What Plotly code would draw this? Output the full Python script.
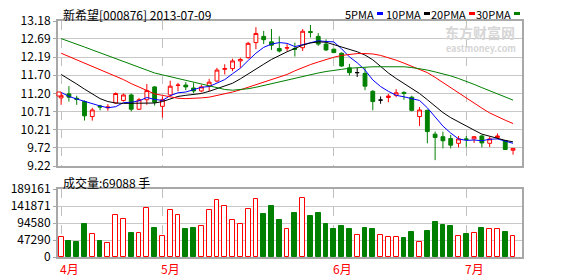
import plotly.graph_objects as go

# ---------------- data ----------------
month_labels = ["4月", "5月", "6月", "7月"]
month_start = [0, 13, 35, 52]

open_ = [11.08, 11.19, 11.07, 10.98, 10.57, 10.86, 10.81, 10.94, 11.01, 11.16,
         10.77, 11.03, 11.38, 10.85, 11.16, 11.42, 11.43, 11.35, 11.27, 11.40,
         11.54, 11.86, 11.88, 12.09, 12.18, 12.59, 12.76, 12.61, 12.43, 12.44,
         12.43, 12.45, 12.89, 12.76, 12.55, 12.41, 12.30, 11.90, 11.77, 11.75,
         11.26, 11.02, 11.09, 11.15, 11.23, 11.10, 10.57, 10.74, 10.09, 10.02,
         9.97, 9.84, 9.96, 9.96, 10.04, 9.84, 10.00, 9.91, 9.65]
high = [11.21, 11.40, 11.14, 11.01, 10.81, 10.89, 10.91, 11.23, 11.20, 11.20,
        11.08, 11.46, 11.40, 11.12, 11.55, 11.49, 11.51, 11.49, 11.44, 11.60,
        11.90, 12.00, 12.15, 12.18, 12.61, 13.01, 12.91, 12.96, 12.76, 12.55,
        12.59, 12.96, 13.07, 12.85, 12.68, 12.43, 12.32, 12.01, 11.90, 11.90,
        11.29, 11.12, 11.19, 11.32, 11.26, 11.14, 10.83, 10.76, 10.16, 10.16,
        10.07, 10.04, 10.04, 10.04, 10.07, 10.02, 10.11, 9.93, 9.70]
low = [10.89, 10.98, 10.89, 10.46, 10.46, 10.74, 10.73, 10.92, 10.98, 10.71,
       10.75, 10.89, 10.87, 10.54, 11.12, 11.26, 11.29, 11.21, 11.23, 11.26,
       11.51, 11.72, 11.81, 11.90, 12.15, 12.41, 12.55, 12.39, 12.32, 12.36,
       12.21, 12.36, 12.73, 12.50, 12.36, 12.30, 11.93, 11.69, 11.65, 11.29,
       10.74, 10.92, 10.96, 11.10, 11.03, 10.71, 10.31, 9.84, 9.38, 9.70,
       9.70, 9.73, 9.73, 9.85, 9.73, 9.74, 9.95, 9.66, 9.53]
close = [11.15, 11.10, 11.04, 10.59, 10.75, 10.83, 10.83, 11.20, 11.16, 10.77,
         11.03, 11.28, 10.96, 11.03, 11.40, 11.43, 11.38, 11.27, 11.38, 11.51,
         11.84, 11.88, 12.09, 12.13, 12.57, 12.84, 12.67, 12.52, 12.36, 12.45,
         12.41, 12.90, 12.87, 12.55, 12.39, 12.32, 11.95, 11.77, 11.77, 11.40,
         10.98, 11.02, 11.13, 11.22, 11.20, 10.74, 10.75, 10.16, 10.00, 9.91,
         9.79, 9.96, 9.95, 10.02, 9.85, 9.96, 10.04, 9.67, 9.70]

ma5 = [11.23, 11.12, 11.05, 10.98, 10.91, 10.86, 10.81, 10.84, 10.95, 10.96,
       11.00, 11.09, 11.04, 11.01, 11.14, 11.22, 11.24, 11.30, 11.37, 11.39,
       11.48, 11.58, 11.74, 11.89, 12.10, 12.30, 12.46, 12.55, 12.59, 12.57,
       12.48, 12.53, 12.60, 12.64, 12.62, 12.61, 12.42, 12.20, 12.04, 11.84,
       11.57, 11.39, 11.26, 11.15, 11.11, 11.06, 11.01, 10.81, 10.57, 10.31,
       10.12, 9.96, 9.92, 9.93, 9.91, 9.95, 9.96, 9.91, 9.84]
ma10 = [11.72, 11.60, 11.46, 11.32, 11.18, 11.06, 10.98, 10.94, 10.93, 10.93,
        10.93, 10.93, 10.94, 10.98, 11.06, 11.12, 11.15, 11.17, 11.20, 11.26,
        11.33, 11.40, 11.48, 11.60, 11.74, 11.87, 12.00, 12.13, 12.24, 12.34,
        12.43, 12.52, 12.58, 12.61, 12.60, 12.54, 12.47, 12.40, 12.34, 12.25,
        12.12, 11.94, 11.76, 11.61, 11.48, 11.33, 11.20, 11.03, 10.85, 10.68,
        10.54, 10.42, 10.30, 10.20, 10.09, 10.03, 9.96, 9.92, 9.88]
ma20 = [12.30, 12.21, 12.13, 12.05, 11.96, 11.87, 11.78, 11.68, 11.58, 11.47,
        11.37, 11.27, 11.19, 11.15, 11.10, 11.07, 11.06, 11.06, 11.08, 11.10,
        11.14, 11.19, 11.24, 11.30, 11.37, 11.44, 11.51, 11.57, 11.64, 11.72,
        11.82, 11.91, 11.99, 12.06, 12.13, 12.19, 12.24, 12.27, 12.29, 12.29,
        12.28, 12.24, 12.18, 12.11, 12.03, 11.95, 11.87, 11.77, 11.64, 11.50,
        11.36, 11.21, 11.06, 10.93, 10.80, 10.67, 10.56, 10.47, 10.38]
ma30 = [12.70, 12.63, 12.55, 12.47, 12.39, 12.31, 12.23, 12.15, 12.07, 11.99,
        11.91, 11.83, 11.76, 11.71, 11.66, 11.61, 11.56, 11.51, 11.45, 11.40,
        11.35, 11.31, 11.29, 11.30, 11.33, 11.37, 11.42, 11.47, 11.52, 11.57,
        11.62, 11.67, 11.72, 11.76, 11.80, 11.84, 11.86, 11.89, 11.91, 11.92,
        11.93, 11.93, 11.93, 11.94, 11.93, 11.91, 11.88, 11.84, 11.79, 11.74,
        11.68, 11.61, 11.54, 11.45, 11.36, 11.28, 11.20, 11.11, 11.02]

volume = [55000, 43800, 41000, 91300, 65200, 43800, 40000, 115500, 105300, 66200,
          68000, 135100, 80100, 59600, 129500, 115500, 77300, 80100, 85700, 130400,
          158400, 141600, 102500, 93200, 133200, 161200, 119300, 141600, 102500, 79200,
          122000, 164000, 113700, 122000, 91300, 77300, 85700, 77300, 62400, 80100,
          77300, 62400, 55000, 56800, 52200, 69000, 42900, 71700, 96900, 88500,
          85700, 59600, 63400, 66200, 80100, 77300, 77300, 69000, 59600]

price_ticks = [9.22, 9.72, 10.21, 10.71, 11.20, 11.70, 12.19, 12.69, 13.18]
price_tick_text = ["9.22", "9.72", "10.21", "10.71", "11.20", "11.70", "12.19", "12.69", "13.18"]
vol_ticks = [0, 47290, 94580, 141871, 189161]

title_text = "新希望[000876] 2013-07-09"
vol_text = "成交量:69088 手"
ma_names = ["5PMA", "10PMA", "20PMA", "30PMA"]

# ---------------- layout helpers ----------------
W, H = 578, 276
L, R, T, B = 58, 56, 21, 19
PW = W - L - R
PH = H - T - B

def px(x):
    return (x - L) / PW

def py(y):
    return (H - B - y) / PH

RED = "#ff0000"
GREEN = "#008000"
FONT = "Noto Sans CJK SC, DejaVu Sans, sans-serif"

n = len(close)
idx = list(range(n))
normal = [i for i in idx if open_[i] != close[i]]
doji = [i for i in idx if open_[i] == close[i]]

fig = go.Figure()

fig.add_trace(go.Candlestick(
    x=normal,
    open=[open_[i] for i in normal], high=[high[i] for i in normal],
    low=[low[i] for i in normal], close=[close[i] for i in normal],
    increasing=dict(line=dict(color=RED, width=1), fillcolor="#ffffff"),
    decreasing=dict(line=dict(color=GREEN, width=1), fillcolor=GREEN),
    whiskerwidth=0, showlegend=False, hoverinfo="skip", xaxis="x", yaxis="y"))
fig.add_trace(go.Candlestick(
    x=doji,
    open=[open_[i] for i in doji], high=[high[i] for i in doji],
    low=[low[i] for i in doji], close=[close[i] for i in doji],
    increasing=dict(line=dict(color="#000000", width=1), fillcolor="#000000"),
    decreasing=dict(line=dict(color="#000000", width=1), fillcolor="#000000"),
    whiskerwidth=0, showlegend=False, hoverinfo="skip", xaxis="x", yaxis="y"))

ma_colors = ["#0000ff", "#000000", RED, GREEN]
for name, vals, col in zip(ma_names, [ma5, ma10, ma20, ma30], ma_colors):
    fig.add_trace(go.Scatter(x=idx, y=vals, mode="lines", name=name,
                             line=dict(color=col, width=1), showlegend=False,
                             hoverinfo="skip", xaxis="x", yaxis="y"))

up = [close[i] >= open_[i] for i in idx]
fig.add_trace(go.Bar(
    x=idx, y=volume, width=0.62,
    marker=dict(color=["#ffffff" if u else GREEN for u in up],
                line=dict(color=[RED if u else GREEN for u in up], width=1)),
    showlegend=False, hoverinfo="skip", xaxis="x2", yaxis="y2"))

main_bottom = py(166)
vol_top = py(189)
xr = [-0.4, 59.15]
axis_common = dict(showline=True, mirror=True, linecolor="#a8a8a8", linewidth=2, zeroline=False)

fig.update_layout(
    width=W, height=H, margin=dict(l=L, r=R, t=T, b=B),
    paper_bgcolor="#ffffff", plot_bgcolor="#ffffff",
    font=dict(family=FONT, size=12, color="#000000"),
    showlegend=False, bargap=0,
    xaxis=dict(domain=[0, 1], anchor="y", range=xr, tickvals=month_start,
               showticklabels=False, showgrid=True, gridcolor="#c0c0c0", griddash="dash",
               gridwidth=1, ticks="", rangeslider=dict(visible=False), **axis_common),
    yaxis=dict(domain=[main_bottom, 1], anchor="x", range=[9.22, 13.18],
               tickvals=price_ticks, ticktext=price_tick_text, showgrid=True,
               gridcolor="#c8c8c8", gridwidth=1, ticks="outside", ticklen=3,
               tickcolor="#a8a8a8", tickfont=dict(size=12), **axis_common),
    xaxis2=dict(domain=[0, 1], anchor="y2", range=xr, tickvals=month_start,
                showticklabels=False, showgrid=True, gridcolor="#c0c0c0", griddash="dash",
                gridwidth=1, ticks="", **axis_common),
    yaxis2=dict(domain=[0, vol_top], anchor="x2", range=[0, 189161],
                tickvals=vol_ticks, ticktext=[str(v) for v in vol_ticks], showgrid=True,
                gridcolor="#c8c8c8", gridwidth=1, ticks="outside", ticklen=3,
                tickcolor="#a8a8a8", tickfont=dict(size=12), **axis_common),
)

shapes = []
# darker middle line
shapes.append(dict(type="line", xref="paper", yref="y", x0=0, x1=1, y0=11.20, y1=11.20,
                   line=dict(color="#a0a0a0", width=1), layer="below"))
# red marker on left axis
shapes.append(dict(type="rect", xref="paper", yref="paper", x0=px(57), x1=px(61),
                   y0=py(96), y1=py(92), line=dict(color=RED, width=1), fillcolor="#ffffff"))

annotations = []
annotations.append(dict(text=title_text, xref="paper", yref="paper", x=px(61), y=py(14),
                        xanchor="left", yanchor="middle", showarrow=False,
                        font=dict(size=12, color="#000000")))
annotations.append(dict(text=vol_text, xref="paper", yref="paper", x=px(61), y=py(182),
                        xanchor="left", yanchor="middle", showarrow=False,
                        font=dict(size=12, color="#000000")))
rect_x = [377, 424, 469, 514]
for name, col, rx in zip(ma_names, ma_colors, rect_x):
    annotations.append(dict(text=name, xref="paper", yref="paper", x=px(rx - 1), y=py(14),
                            xanchor="right", yanchor="middle", showarrow=False,
                            font=dict(size=11, color="#000000")))
    shapes.append(dict(type="rect", xref="paper", yref="paper", x0=px(rx), x1=px(rx + 6),
                       y0=py(15), y1=py(12), line=dict(width=0), fillcolor=col))
for lab, mi in zip(month_labels, month_start):
    annotations.append(dict(text=lab, xref="x2", yref="paper", x=mi, y=py(268),
                            xanchor="left", yanchor="middle", xshift=-3, showarrow=False,
                            font=dict(size=12, color=RED)))
# watermark
annotations.append(dict(text="<b>东方财富网</b>", xref="paper", yref="paper", x=px(480), y=py(32),
                        xanchor="center", yanchor="middle", showarrow=False,
                        font=dict(size=14, color="#d6d6d6")))
annotations.append(dict(text="<b>eastmoney.com</b>", xref="paper", yref="paper", x=px(481), y=py(48),
                        xanchor="center", yanchor="middle", showarrow=False,
                        font=dict(size=9, color="#d6d6d6")))

fig.update_layout(shapes=shapes, annotations=annotations)
fig.write_html("out.html", config={"displayModeBar": False})
